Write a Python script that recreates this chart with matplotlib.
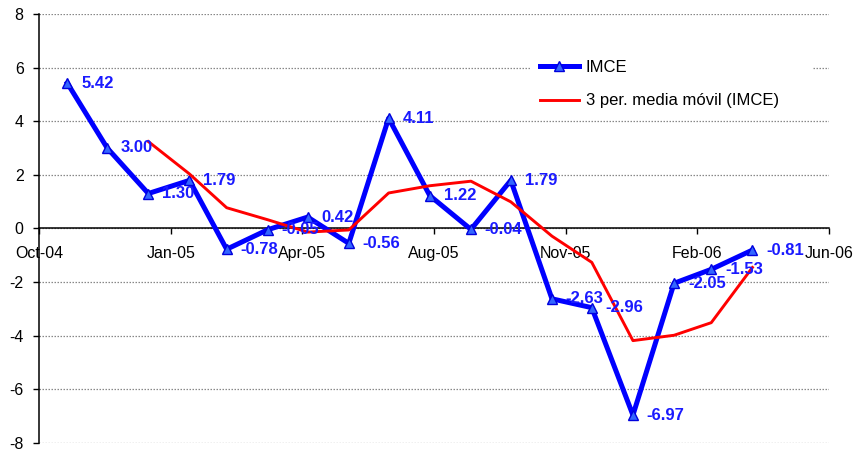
import matplotlib
matplotlib.use('Agg')
import matplotlib.pyplot as plt
from matplotlib.patches import Rectangle
import numpy as np
from datetime import datetime, timedelta

# ---- data ----
months = ['2004-11', '2004-12', '2005-01', '2005-02', '2005-03', '2005-04',
          '2005-05', '2005-06', '2005-07', '2005-08', '2005-09', '2005-10',
          '2005-11', '2005-12', '2006-01', '2006-02', '2006-03', '2006-04']
imce = [5.42, 3.00, 1.30, 1.79, -0.78, -0.05, 0.42, -0.56, 4.11, 1.22,
        -0.04, 1.79, -2.63, -2.96, -6.97, -2.05, -1.53, -0.81]
ma_months = ['2005-01', '2005-02', '2005-03', '2005-04', '2005-05', '2005-06',
             '2005-07', '2005-08', '2005-09', '2005-10', '2005-11', '2005-12',
             '2006-01', '2006-02', '2006-03', '2006-04']
ma_values = [3.24, 2.03, 0.77, 0.32, -0.14, -0.06, 1.32, 1.59, 1.76, 0.99,
             -0.29, -1.27, -4.19, -3.99, -3.52, -1.46]
tick_labels = ['Oct-04', 'Jan-05', 'Apr-05', 'Aug-05', 'Nov-05', 'Feb-06', 'Jun-06']
y_ticks = [-8, -6, -4, -2, 0, 2, 4, 6, 8]

plt.rcParams['font.family'] = ['Liberation Sans', 'DejaVu Sans']

def to_date(s):
    return datetime.strptime(s, '%Y-%m')

x = [to_date(m) for m in months]
xm = [to_date(m) for m in ma_months]

W, H = 859, 451
fig = plt.figure(figsize=(W / 100, H / 100), dpi=100)
left, right, top, bottom = 39, 829, 14, 442.7
ax = fig.add_axes([left / W, 1 - bottom / H, (right - left) / W, (bottom - top) / H])

start = datetime(2004, 10, 10, 16)
span_days = 595
end = start + timedelta(days=span_days)
ax.set_xlim(start, end)
ax.set_ylim(-8, 8)

blue = '#0000FF'
ln1, = ax.plot(x, imce, color=blue, lw=3.6, marker='^', markersize=7.5,
               markerfacecolor='#3366FF', markeredgecolor='#0000DD',
               markeredgewidth=1, zorder=3, label='IMCE')
ln2, = ax.plot(xm, ma_values, color='#FF0000', lw=2.1, zorder=4,
               label='3 per. media móvil (IMCE)')

for xi, v in zip(x, imce):
    ax.annotate(f'{v:.2f}', (xi, v), xytext=(10, 0), textcoords='offset points',
                ha='left', va='center', fontsize=12, fontweight='bold',
                color='#1A1AFF', zorder=5)

# axes styling
for s in ['top', 'right']:
    ax.spines[s].set_visible(False)
ax.spines['bottom'].set_position(('data', 0))
ax.spines['bottom'].set_linewidth(1.1)
ax.spines['left'].set_linewidth(1.1)

ticks = [start + timedelta(days=d) for d in np.linspace(0, span_days, len(tick_labels))]
ax.set_xticks(ticks)
ax.set_xticklabels(tick_labels)
ax.set_yticks(y_ticks)
ax.set_yticklabels([str(t) for t in y_ticks])
ax.tick_params(axis='x', direction='out', length=4, width=1, pad=9, labelsize=11.5)
ax.tick_params(axis='y', direction='out', length=4, width=1, pad=7, labelsize=11.5)

ax.yaxis.grid(True, color='#888888', linestyle=(0, (1.2, 1.2)), lw=0.9)
ax.set_axisbelow(True)

# white legend area (as in the original, wider than the entries)
fig.patches.append(Rectangle((531 / W, 1 - 118 / H), (813 - 531) / W, 70 / H,
                             transform=fig.transFigure, facecolor='white',
                             edgecolor='none', zorder=1))

leg = fig.legend(handles=[ln1, ln2], loc='upper left',
                 bbox_to_anchor=(533 / W, 1 - 53 / H), fontsize=12,
                 frameon=True, facecolor='white', edgecolor='none',
                 framealpha=1, handlelength=2.35, handletextpad=0.4,
                 borderpad=0.4, labelspacing=1.13, borderaxespad=0)
leg.get_frame().set_linewidth(0)

fig.savefig('out.png', dpi=100, facecolor='white')
